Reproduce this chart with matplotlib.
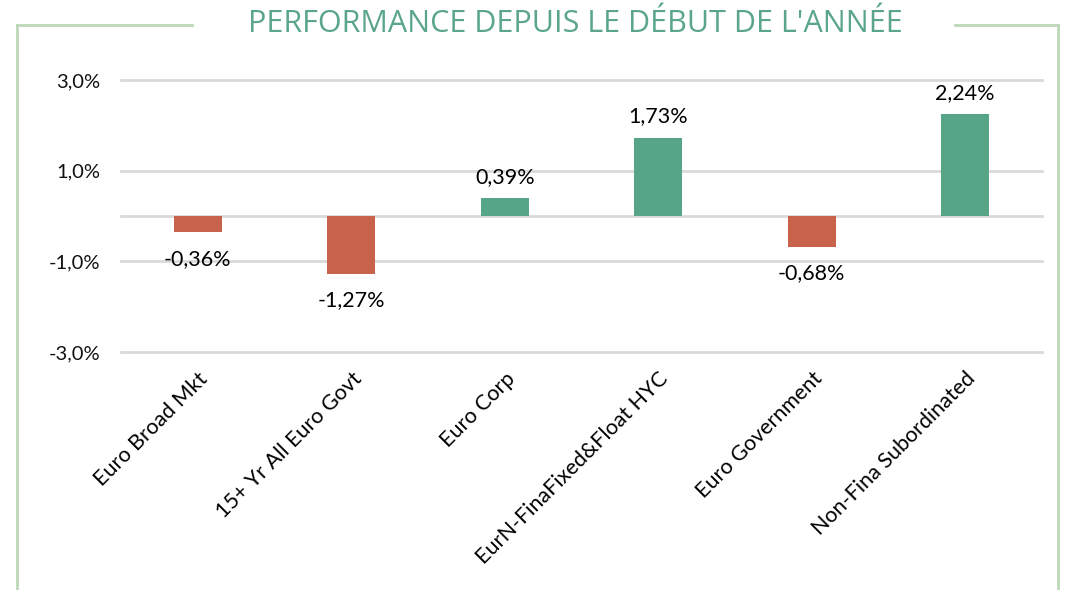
import matplotlib.pyplot as plt
from matplotlib.lines import Line2D

categories = ["Euro Broad Mkt", "15+ Yr All Euro Govt", "Euro Corp",
              "EurN-FinaFixed&Float HYC", "Euro Government", "Non-Fina Subordinated"]
values = [-0.36, -1.27, 0.39, 1.73, -0.68, 2.24]
yticks = [-3, -1, 1, 3]

RED = "#C9624A"
GREEN = "#55A586"
TITLE = "#5BA68A"
FRAME = "#BDD7B9"
GRID = "#D9D9D9"

W, H = 1080, 590
fig = plt.figure(figsize=(W / 100, H / 100), dpi=100)
ax = fig.add_axes([121 / W, 1 - 352 / H, (1042 - 121) / W, (352 - 80) / H])

x = range(len(categories))
colors = [GREEN if v >= 0 else RED for v in values]
ax.bar(x, values, width=0.31, color=colors, zorder=3)

ax.set_xlim(-0.5, len(categories) - 0.5)
ax.set_ylim(-3, 3)
ax.set_yticks(yticks)
ax.set_yticklabels([f"{t:.1f}%".replace(".", ",") for t in yticks],
                   fontfamily="Lato", fontsize=14.5, color="#111111")
for t in yticks + [0]:
    ax.axhline(t, color=GRID, lw=2, zorder=1, clip_on=False)

ax.set_xticks(list(x))
ax.set_xticklabels(categories, rotation=45, ha="right", va="top",
                   rotation_mode="anchor", fontfamily="Lato", fontsize=15.5)
ax.tick_params(axis="both", length=0)
ax.tick_params(axis="x", pad=12)
ax.tick_params(axis="y", pad=15)
for s in ax.spines.values():
    s.set_visible(False)

# value labels
for i, v in enumerate(values):
    lbl = f"{v:.2f}%".replace(".", ",")
    if v >= 0:
        ax.annotate(lbl, (i, v), xytext=(0, 8), textcoords="offset points",
                    ha="center", va="bottom", fontfamily="Lato", fontsize=15.5)
    else:
        ax.annotate(lbl, (i, v), xytext=(0, -12), textcoords="offset points",
                    ha="center", va="top", fontfamily="Lato", fontsize=15.5)

# title and frame
fig.text(575 / W, 1 - 24 / H, "PERFORMANCE DEPUIS LE DÉBUT DE L'ANNÉE",
         ha="center", va="center", fontfamily="Open Sans", fontsize=22, color=TITLE)
fy = 1 - 25 / H
fig.add_artist(Line2D([17 / W, 17 / W], [0, fy], color=FRAME, lw=2))
fig.add_artist(Line2D([1058 / W, 1058 / W], [0, fy], color=FRAME, lw=2))
fig.add_artist(Line2D([17 / W, 192 / W], [fy, fy], color=FRAME, lw=2))
fig.add_artist(Line2D([955 / W, 1058 / W], [fy, fy], color=FRAME, lw=2))

fig.savefig("out.png", dpi=100)
